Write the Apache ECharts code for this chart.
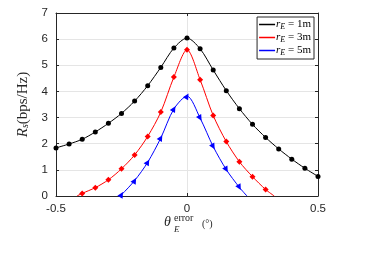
<!DOCTYPE html>
<html>
<head>
<meta charset="utf-8">
<script src="https://cdn.jsdelivr.net/npm/echarts@6/dist/echarts.min.js"></script>
<style>html,body{margin:0;padding:0;background:#fff}#c{width:374px;height:262px}</style>
</head>
<body>
<div id="c"></div>
<script>
// ---- data ----
const xTicks = [-0.5, 0, 0.5];
const yTicks = [0, 1, 2, 3, 4, 5, 6, 7];
const seriesNames = ['1m', '3m', '5m'];

const blackX = [-0.5,-0.45,-0.4,-0.35,-0.3,-0.25,-0.2,-0.15,-0.1,-0.05,0,0.05,0.1,0.15,0.2,0.25,0.3,0.35,0.4,0.45,0.5];
const blackY = [1.84,1.99,2.17,2.45,2.78,3.16,3.63,4.22,4.92,5.66,6.04,5.63,4.82,4.03,3.34,2.74,2.24,1.80,1.41,1.06,0.75];

const redX = [-0.42,-0.4,-0.35,-0.3,-0.25,-0.2,-0.15,-0.1,-0.05,0,0.05,0.1,0.15,0.2,0.25,0.3,0.333];
const redY = [0,0.10,0.32,0.62,1.04,1.57,2.28,3.21,4.55,5.59,4.45,3.08,2.08,1.31,0.74,0.25,0];

const blueX = [-0.26,-0.25,-0.2,-0.15,-0.1,-0.05,0,0.05,0.1,0.15,0.2,0.229];
const blueY = [0,0.05,0.59,1.29,2.22,3.33,3.82,2.98,1.89,1.01,0.33,0];

// ---- build ----
const onGrid = x => Math.abs(x * 20 - Math.round(x * 20)) < 1e-6;
function mk(xs, ys, rotFn) {
  return xs.map((x, i) => {
    const d = { value: [x, ys[i]] };
    if (!onGrid(x)) d.symbol = 'none';
    if (rotFn) d.symbolRotate = rotFn(x);
    return d;
  });
}
const axisColor = '#262626';
const gridColor = '#e5e5e5';
const serif = '"Liberation Serif","DejaVu Serif",serif';
const sans = '"Liberation Sans",Arial,sans-serif';

const legendRich = {
  i: { fontFamily: serif, fontStyle: 'italic', fontSize: 11, color: '#000' },
  s: { fontFamily: serif, fontStyle: 'italic', fontSize: 8, color: '#000', padding: [5, 0, 0, 0] },
  n: { fontFamily: serif, fontSize: 11, color: '#000' }
};

const chart = echarts.init(document.getElementById('c'), null, { renderer: 'canvas' });
chart.setOption({
  animation: false,
  backgroundColor: '#fff',
  grid: { left: 56, right: 56, top: 13, bottom: 66, show: false },
  xAxis: [{
    type: 'value', min: xTicks[0], max: xTicks[xTicks.length - 1], interval: 0.5,
    axisLine: { onZero: false, lineStyle: { color: axisColor } },
    axisTick: { inside: true, length: 3, lineStyle: { color: axisColor } },
    axisLabel: { color: axisColor, fontSize: 11.5, fontFamily: sans, margin: 7 },
    splitLine: { show: true, lineStyle: { color: gridColor } }
  }, {
    type: 'value', position: 'top', min: xTicks[0], max: xTicks[xTicks.length - 1], interval: 0.5,
    axisLine: { show: true, onZero: false, lineStyle: { color: axisColor } },
    axisTick: { show: true, inside: true, length: 3, lineStyle: { color: axisColor } },
    axisLabel: { show: false }, splitLine: { show: false }
  }],
  yAxis: [{
    type: 'value', min: yTicks[0], max: yTicks[yTicks.length - 1], interval: 1,
    axisLine: { show: true, onZero: false, lineStyle: { color: axisColor } },
    axisTick: { show: true, inside: true, length: 3, lineStyle: { color: axisColor } },
    axisLabel: { color: axisColor, fontSize: 11.5, fontFamily: sans, margin: 8 },
    splitLine: { show: true, lineStyle: { color: gridColor } },
    name: '{i|R}{s|s}{n|(bps/Hz)}', nameLocation: 'middle', nameRotate: 90, nameGap: 20,
    nameTextStyle: {
      rich: {
        i: { fontFamily: serif, fontStyle: 'italic', fontSize: 15, color: axisColor },
        s: { fontFamily: serif, fontStyle: 'italic', fontSize: 10, color: axisColor, padding: [6, 0, 0, 0] },
        n: { fontFamily: serif, fontSize: 15, color: axisColor }
      }
    }
  }, {
    type: 'value', position: 'right', min: yTicks[0], max: yTicks[yTicks.length - 1], interval: 1,
    axisLine: { show: true, onZero: false, lineStyle: { color: axisColor } },
    axisTick: { show: true, inside: true, length: 3, lineStyle: { color: axisColor } },
    axisLabel: { show: false }, splitLine: { show: false }
  }],
  legend: {
    orient: 'vertical', right: 60, top: 17, itemGap: 1,
    padding: [2, 3, 2, 2], borderColor: axisColor, borderWidth: 1, backgroundColor: '#fff',
    icon: 'rect', itemWidth: 16, itemHeight: 1.5,
    textStyle: { rich: legendRich, padding: [0, 0, 0, -4] },
    formatter: n => '{i|r}{s|E}{n| = ' + n + '}',
    data: seriesNames
  },
  series: [{
    name: seriesNames[0], type: 'line', smooth: 0.3,
    data: mk(blackX, blackY), symbol: 'circle', symbolSize: 5,
    lineStyle: { color: '#000', width: 1 }, itemStyle: { color: '#000' }, z: 3
  }, {
    name: seriesNames[1], type: 'line', smooth: 0.3,
    data: mk(redX, redY), symbol: 'diamond', symbolSize: 6,
    lineStyle: { color: '#ff0000', width: 1 }, itemStyle: { color: '#ff0000' }, z: 3
  }, {
    name: seriesNames[2], type: 'line', smooth: 0.3,
    data: mk(blueX, blueY, x => (x <= 0 ? -30 : 210)), symbol: 'triangle', symbolSize: 6,
    lineStyle: { color: '#0000ff', width: 1 }, itemStyle: { color: '#0000ff' }, z: 3
  }],
  graphic: [
    { type: 'text', left: 164, top: 215, style: { text: 'θ', font: 'italic 14px ' + serif, fill: axisColor } },
    { type: 'text', left: 174, top: 213, style: { text: 'error', font: '10px ' + serif, fill: axisColor } },
    { type: 'text', left: 174, top: 225, style: { text: 'E', font: 'italic 9px ' + serif, fill: axisColor } },
    { type: 'text', left: 202, top: 219, style: { text: '(°)', font: '10px ' + serif, fill: axisColor } }
  ]
});
</script>
</body>
</html>
